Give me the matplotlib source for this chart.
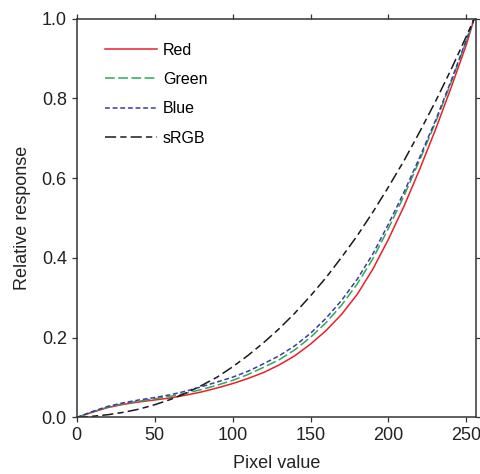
import numpy as np
import matplotlib
matplotlib.use("Agg")
import matplotlib.pyplot as plt

plt.rcParams['font.family'] = ['Liberation Sans', 'DejaVu Sans']
plt.rcParams['lines.scale_dashes'] = False

### data ###
pixel = [0, 10, 20, 30, 40, 50, 60, 70, 80, 90, 100, 110, 120, 130, 140,
         150, 160, 170, 180, 190, 200, 210, 220, 230, 240, 250, 255]
red = [0, 0.013, 0.025, 0.033, 0.039, 0.044, 0.049, 0.056, 0.064, 0.074,
       0.085, 0.098, 0.113, 0.132, 0.155, 0.184, 0.218, 0.259, 0.309, 0.372,
       0.447, 0.530, 0.622, 0.720, 0.825, 0.935, 1.0]
green = [0, 0.014, 0.026, 0.035, 0.041, 0.047, 0.053, 0.061, 0.070, 0.081,
         0.093, 0.108, 0.126, 0.145, 0.170, 0.201, 0.238, 0.282, 0.335, 0.398,
         0.474, 0.556, 0.645, 0.738, 0.838, 0.945, 1.0]
blue = [0, 0.015, 0.028, 0.037, 0.044, 0.050, 0.057, 0.066, 0.077, 0.089,
        0.101, 0.116, 0.135, 0.155, 0.180, 0.211, 0.249, 0.294, 0.347, 0.410,
        0.485, 0.565, 0.652, 0.743, 0.842, 0.947, 1.0]
srgb = [0, 0.003, 0.007, 0.013, 0.021, 0.032, 0.045, 0.061, 0.080, 0.101,
        0.127, 0.156, 0.188, 0.223, 0.262, 0.305, 0.351, 0.402, 0.456, 0.515,
        0.578, 0.644, 0.716, 0.791, 0.871, 0.956, 1.0]

axis_col = '#333333'
text_col = '#222222'

fig = plt.figure(figsize=(4.81, 4.74), dpi=100)
ax = fig.add_axes([0.1595, 0.1192, 0.8295, 0.8413])

ax.plot(pixel, red, color='#e8202a', lw=1.1, label='Red')
ax.plot(pixel, green, color='#2ea85a', lw=1.1, dashes=(7, 2.5), label='Green')
ax.plot(pixel, blue, color='#3b3ba3', lw=1.1, dashes=(3.5, 2), label='Blue')
ax.plot(pixel, srgb, color='#1a1a1a', lw=1.1, dashes=(8, 3, 4.5, 3), label='sRGB')

ax.set_xlim(0, 256)
ax.set_ylim(0, 1.0)
ax.set_xticks([0, 50, 100, 150, 200, 250])
ax.set_yticks([0, 0.2, 0.4, 0.6, 0.8, 1.0])
ax.set_yticklabels(['0.0', '0.2', '0.4', '0.6', '0.8', '1.0'])

for s in ax.spines.values():
    s.set_color(axis_col)
    s.set_linewidth(1.1)
ax.tick_params(direction='out', length=3.6, width=0.9, pad=3.5, colors=axis_col,
               labelcolor=text_col, labelsize=13, top=True, right=True)

ax.set_xlabel('Pixel value', fontsize=13, color=text_col, labelpad=8)
ax.set_ylabel('Relative response', fontsize=13, color=text_col, labelpad=8)

ax.legend(loc='upper left', bbox_to_anchor=(0.072, 0.94), frameon=False,
          fontsize=11.5, handlelength=3.2, handletextpad=0.4,
          labelspacing=0.9, borderpad=0, borderaxespad=0)

fig.savefig('out.png', dpi=100)
